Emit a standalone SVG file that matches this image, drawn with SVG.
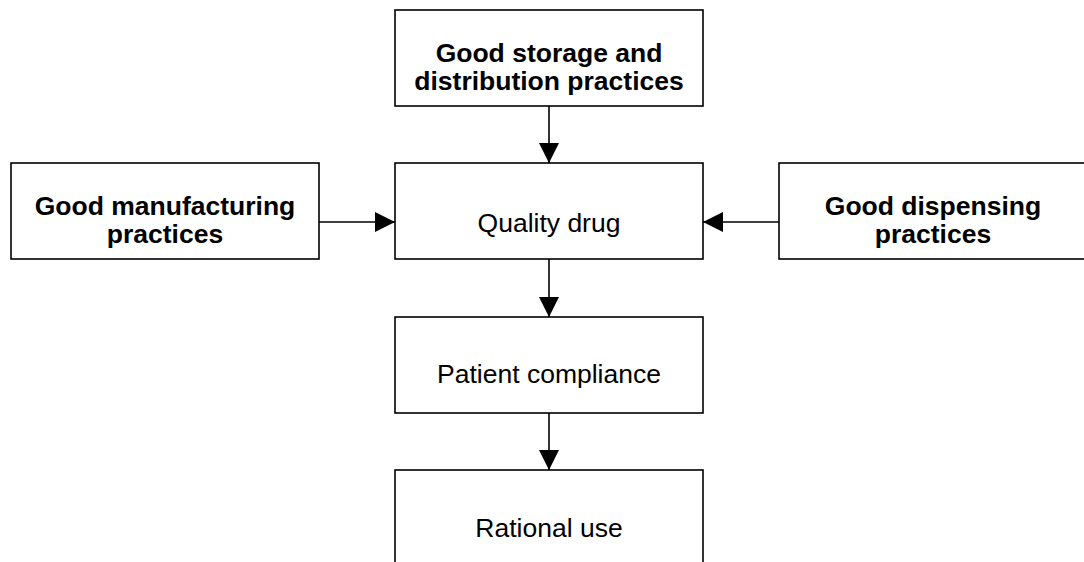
<svg xmlns="http://www.w3.org/2000/svg" width="1084" height="562" viewBox="0 0 1084 562">
<style>
.box{fill:#fff;stroke:#000;stroke-width:1.6}
.b{font-family:"Liberation Sans",Arial,sans-serif;font-size:26.5px;font-weight:bold;text-anchor:middle;fill:#000}
.r{font-family:"Liberation Sans",Arial,sans-serif;font-size:26.5px;text-anchor:middle;fill:#000}
.ln{stroke:#000;stroke-width:1.6;fill:none}
</style>
<defs>
<marker id="ah" viewBox="0 0 20 20" refX="20" refY="10" markerWidth="20" markerHeight="20" markerUnits="userSpaceOnUse" orient="auto">
<path d="M0,0 L20,10 L0,20 Z" fill="#000"/>
</marker>
</defs>
<rect width="1084" height="562" fill="#fff"/>
<g id="connectors">
<line class="ln" x1="549" y1="106" x2="549" y2="163" marker-end="url(#ah)"/>
<line class="ln" x1="319" y1="222" x2="395" y2="222" marker-end="url(#ah)"/>
<line class="ln" x1="779" y1="222" x2="703" y2="222" marker-end="url(#ah)"/>
<line class="ln" x1="549" y1="259" x2="549" y2="317" marker-end="url(#ah)"/>
<line class="ln" x1="549" y1="413" x2="549" y2="470" marker-end="url(#ah)"/>
</g>
<g id="storage">
<rect class="box" x="395" y="10" width="308" height="96"/>
<text class="b" x="549" y="62">Good storage and</text>
<text class="b" x="549" y="90">distribution practices</text>
</g>
<g id="manufacturing">
<rect class="box" x="11" y="163" width="308" height="96"/>
<text class="b" x="165" y="215">Good manufacturing</text>
<text class="b" x="165" y="243">practices</text>
</g>
<g id="quality">
<rect class="box" x="395" y="163" width="308" height="96"/>
<text class="r" x="549" y="232">Quality drug</text>
</g>
<g id="dispensing">
<rect class="box" x="779" y="163" width="308" height="96"/>
<text class="b" x="933" y="215">Good dispensing</text>
<text class="b" x="933" y="243">practices</text>
</g>
<g id="compliance">
<rect class="box" x="395" y="317" width="308" height="96"/>
<text class="r" x="549" y="383">Patient compliance</text>
</g>
<g id="rational">
<rect class="box" x="395" y="470" width="308" height="96"/>
<text class="r" x="549" y="537">Rational use</text>
</g>
</svg>
